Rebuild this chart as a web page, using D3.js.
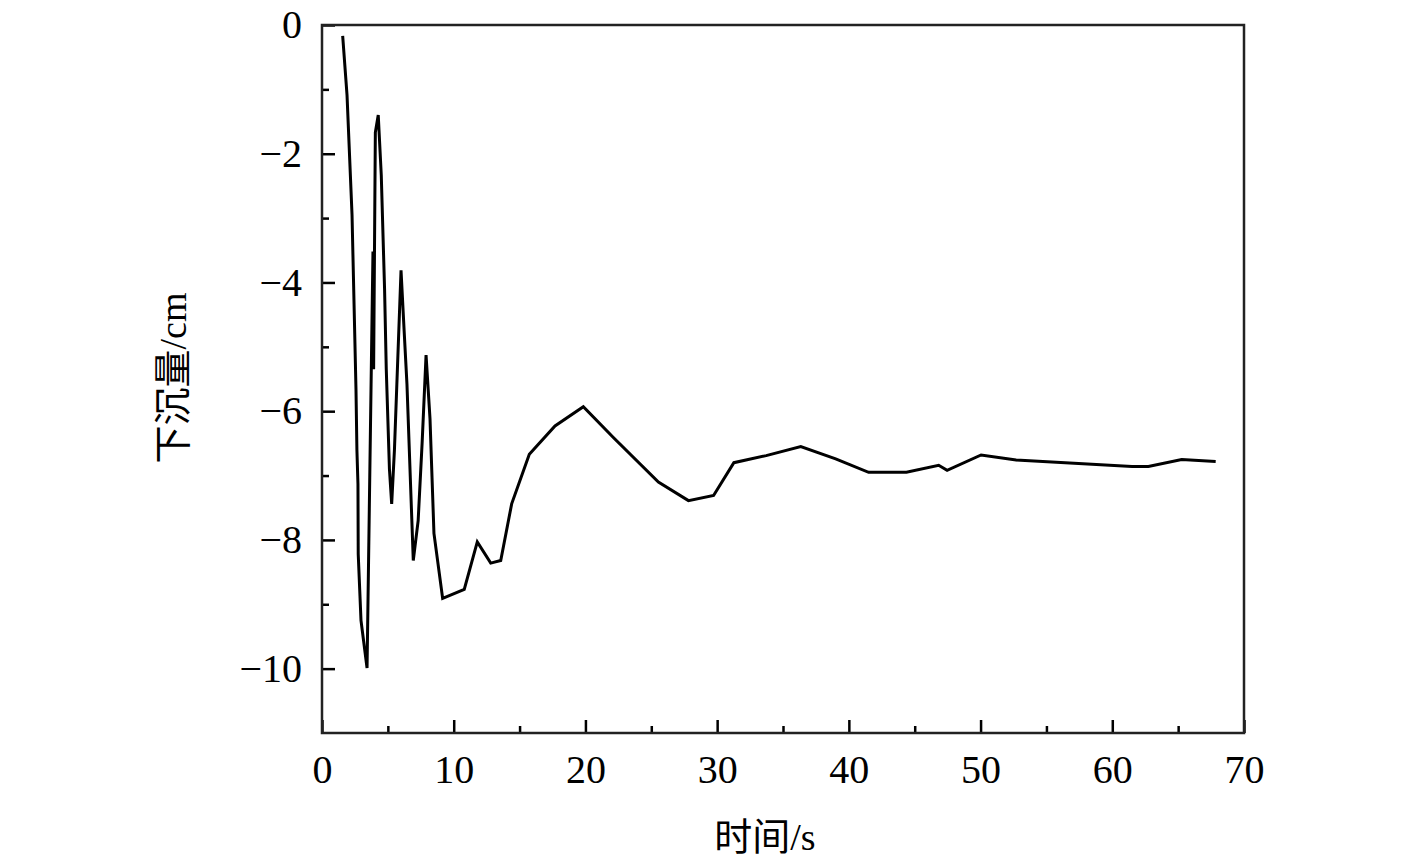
<!DOCTYPE html>
<html>
<head>
<meta charset="utf-8">
<script src="https://cdn.jsdelivr.net/npm/d3@7"></script>
<style>
  body { margin: 0; background: #fff; }
  svg text { font-family: "Liberation Serif", "Noto Sans CJK SC", serif; fill: #000; }
</style>
</head>
<body>
<svg width="1417" height="866"></svg>
<script>
// time (s) and settlement (cm)
var time = [1.57, 1.9, 2.28, 2.58, 2.65, 2.73, 2.75, 2.96, 3.42, 3.87, 3.92, 4.05, 4.27,
    4.5, 4.75, 4.88, 5.12, 5.29, 5.5, 6.0, 6.23, 6.45, 6.93, 7.3, 7.6, 7.9, 8.2, 8.5, 9.16,
    10.8, 11.79, 12.81, 13.57, 14.4, 15.74, 17.69, 19.84, 22.12, 25.54, 27.82, 29.73,
    31.27, 33.72, 36.35, 39.0, 41.5, 44.37, 46.82, 47.46, 50.04, 52.7, 61.5, 62.74, 65.27, 67.85];
var settlement = [-0.17, -1.09, -2.95, -5.66, -6.6, -7.13, -8.22, -9.25, -9.99, -3.52, -5.35, -1.67, -1.40,
    -2.33, -4.1, -5.35, -6.9, -7.44, -6.6, -3.81, -4.73, -5.58, -8.32, -7.7, -6.5, -5.13, -6.12, -7.9, -8.91,
    -8.77, -8.03, -8.36, -8.32, -7.44, -6.67, -6.23, -5.93, -6.41, -7.10, -7.39, -7.31,
    -6.80, -6.69, -6.55, -6.74, -6.95, -6.95, -6.84, -6.92, -6.68, -6.76, -6.86, -6.86, -6.75, -6.78];

var xTicks = [0, 10, 20, 30, 40, 50, 60, 70];
var yTicks = [0, -2, -4, -6, -8, -10];
var xMinor = [5, 15, 25, 35, 45, 55, 65];
var yMinor = [-1, -3, -5, -7, -9];

var data = time.map((t, i) => ({ t: t, v: settlement[i] }));

var svg = d3.select('svg');

// plot box edges (px)
var plotLeft = 322, plotRight = 1244, plotTop = 25, plotBottom = 733;

var x = d3.scaleLinear().domain([0, 70]).range([plotLeft, plotRight]);
var y = d3.scaleLinear().domain([-11, 0]).range([plotBottom, plotTop]);

// major ticks, pointing inward
var xAxis = svg.append('g')
    .attr('transform', 'translate(0,' + plotBottom + ')')
    .call(d3.axisBottom(x).tickValues(xTicks).tickSizeInner(-13).tickSizeOuter(0).tickPadding(22)
        .tickFormat(d3.format('d')));
var yAxis = svg.append('g')
    .attr('transform', 'translate(' + plotLeft + ',0)')
    .call(d3.axisLeft(y).tickValues(yTicks).tickSizeInner(-13).tickSizeOuter(0).tickPadding(20)
        .tickFormat(d => d < 0 ? '\u2212' + Math.abs(d) : d));

// minor ticks
svg.append('g')
    .attr('transform', 'translate(0,' + plotBottom + ')')
    .call(d3.axisBottom(x).tickValues(xMinor).tickSizeInner(-7).tickSizeOuter(0).tickFormat(''));
svg.append('g')
    .attr('transform', 'translate(' + plotLeft + ',0)')
    .call(d3.axisLeft(y).tickValues(yMinor).tickSizeInner(-7).tickSizeOuter(0).tickFormat(''));

svg.selectAll('.domain').remove();
svg.selectAll('.tick line').attr('stroke', '#000').attr('stroke-width', 2.5);
svg.selectAll('.tick text').attr('font-size', 40).attr('font-family', '"Liberation Serif", serif');
xAxis.selectAll('.tick text').attr('dy', '0.71em');

// frame
svg.append('rect')
    .attr('x', plotLeft).attr('y', plotTop)
    .attr('width', plotRight - plotLeft).attr('height', plotBottom - plotTop)
    .attr('fill', 'none').attr('stroke', '#222').attr('stroke-width', 2.5);

// the curve
var line = d3.line().x(d => x(d.t)).y(d => y(d.v));
svg.append('path')
    .datum(data)
    .attr('d', line)
    .attr('fill', 'none')
    .attr('stroke', '#000')
    .attr('stroke-width', 3)
    .attr('stroke-linejoin', 'miter');

// axis titles
svg.append('text')
    .attr('x', 765).attr('y', 850)
    .attr('text-anchor', 'middle')
    .attr('font-size', 38)
    .text('时间/s');

svg.append('text')
    .attr('transform', 'translate(186,378) rotate(-90)')
    .attr('text-anchor', 'middle')
    .attr('font-size', 38)
    .text('下沉量/cm');
</script>
</body>
</html>
